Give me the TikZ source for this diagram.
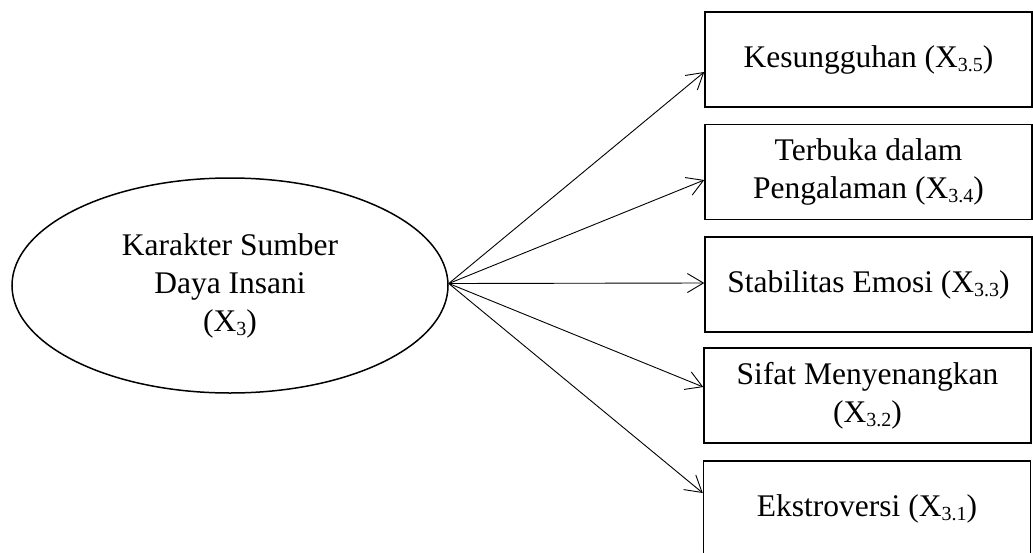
\documentclass[tikz,border=0pt]{standalone}
\usepackage{fontspec}
\setmainfont{Liberation Serif}
\usetikzlibrary{shapes.geometric,arrows.meta}
% subscript set as in a word processor: two thirds size, slightly lowered
\newcommand{\lowidx}[1]{\raisebox{-0.14em}{\fontsize{20}{20}\selectfont #1}}
\begin{document}
\begin{tikzpicture}[x=1pt,y=-1pt,
  every node/.style={font=\fontsize{31.5}{38}\selectfont, align=center, inner sep=0pt},
  latent/.style={ellipse, draw, line width=1.5pt, minimum width=436pt, minimum height=215pt},
  indicator/.style={rectangle, draw, line width=1.5pt, minimum width=327pt, minimum height=95pt},
  link/.style={-{Straight Barb[length=16pt,width=19pt]}, line width=0.9pt}]
\useasboundingbox (0,0) rectangle (1033,552);

% latent construct
\node[latent] (x3) at (230,285.5) {Karakter Sumber\\Daya Insani\\(X\lowidx{3})};

% indicators
\node[indicator] (x35) at (868.5,59.5)  {Kesungguhan (X\lowidx{3.5})};
\node[indicator] (x34) at (868.5,172)   {Terbuka dalam\\Pengalaman (X\lowidx{3.4})};
\node[indicator] (x33) at (868.5,284.5) {Stabilitas Emosi (X\lowidx{3.3})};
\node[indicator] (x32) at (867.5,395.5) {Sifat Menyenangkan\\(X\lowidx{3.2})};
\node[indicator] (x31) at (867,508.5)   {Ekstroversi (X\lowidx{3.1})};

% loadings
\draw[link] ([yshift=2pt]x3.east) -- ([yshift=-12.5pt]x35.west);
\draw[link] ([yshift=2pt]x3.east) -- ([yshift=-8pt]x34.west);
\draw[link] ([yshift=2pt]x3.east) -- ([yshift=1.5pt]x33.west);
\draw[link] ([yshift=2pt]x3.east) -- ([yshift=8.5pt]x32.west);
\draw[link] ([yshift=2pt]x3.east) -- ([yshift=15.5pt]x31.west);
\end{tikzpicture}
\end{document}
